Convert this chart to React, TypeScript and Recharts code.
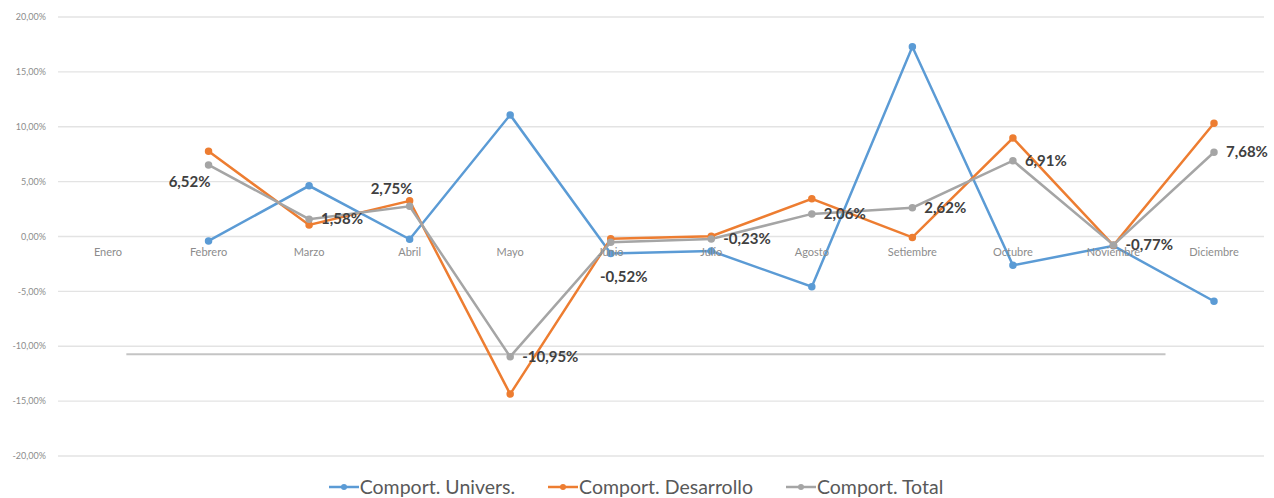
import { LineChart, Line, XAxis, YAxis, CartesianGrid, Legend, ReferenceLine, LabelList } from 'recharts'

const months = ['Enero', 'Febrero', 'Marzo', 'Abril', 'Mayo', 'Junio', 'Julio', 'Agosto', 'Setiembre', 'Octubre', 'Noviembre', 'Diciembre']

const univers = [null, -0.4, 4.62, -0.25, 11.08, -1.55, -1.32, -4.58, 17.28, -2.62, -0.85, -5.9]
const desarrollo = [null, 7.76, 1.05, 3.25, -14.36, -0.2, 0.02, 3.44, -0.08, 8.97, -0.8, 10.32]
const total = [null, 6.52, 1.58, 2.75, -10.95, -0.52, -0.23, 2.06, 2.62, 6.91, -0.77, 7.68]

const yTicks = [-20, -15, -10, -5, 0, 5, 10, 15, 20]

// where each "Total" label sits relative to its point
const labelSide = ['', 'left', 'right', 'top', 'right', 'bottom', 'right', 'right', 'right', 'right', 'right', 'right']

// stray horizontal rule drawn across the chart (x in month slots, 0..12)
const ruleY = -10.73
const ruleFrom = 0.68
const ruleTo = 11.02

const data = months.map((m, i) => ({
  month: m,
  slot: i + 0.5,
  univers: univers[i],
  desarrollo: desarrollo[i],
  total: total[i],
}))

const BLUE = '#5b9bd5'
const ORANGE = '#ed7d31'
const GRAY = '#a5a5a5'
const FONT = 'Lato, "Open Sans", sans-serif'

const pct = (v: number) => `${v.toFixed(2).replace('.', ',')}%`

const MonthTick = (props: any) => {
  const { x, y, payload } = props
  // the category labels sit just under the zero line, not at the bottom
  return (
    <text x={x} y={y - 208} textAnchor="middle" fontSize={11} fill="#8c8c8c" fontFamily={FONT}>
      {payload.value}
    </text>
  )
}

const TotalLabel = (props: any) => {
  const { x, y, value, index } = props
  if (value == null) return null
  const side = labelSide[index]
  let tx = x + 12
  let ty = y + 5
  let anchor: 'start' | 'end' | 'middle' = 'start'
  if (side === 'left') { tx = x + 2; ty = y + 22; anchor = 'end' }
  if (side === 'top') { tx = x - 18; ty = y - 12; anchor = 'middle' }
  if (side === 'bottom') { tx = x + 13; ty = y + 40; anchor = 'middle' }
  return (
    <text x={tx} y={ty} textAnchor={anchor} fontSize={15} fontWeight={700} fill="#404040" fontFamily={FONT}>
      {pct(value)}
    </text>
  )
}

const legendItems = [
  { name: 'Comport. Univers.', color: BLUE },
  { name: 'Comport. Desarrollo', color: ORANGE },
  { name: 'Comport. Total', color: GRAY },
]

const LegendContent = () => (
  <div style={{ display: 'flex', justifyContent: 'center', gap: 33, marginTop: 18, fontFamily: FONT, fontSize: 19.5, color: '#595959' }}>
    {legendItems.map((it) => (
      <div key={it.name} style={{ display: 'flex', alignItems: 'center' }}>
        <svg width={30} height={10} style={{ marginRight: 1 }}>
          <line x1={0} y1={5} x2={30} y2={5} stroke={it.color} strokeWidth={2.5} />
          <circle cx={15} cy={5} r={3} fill={it.color} />
        </svg>
        <span>{it.name}</span>
      </div>
    ))}
  </div>
)

export default function App() {
  return (
    <div style={{ position: 'absolute', left: 0, top: 0, background: '#fff' }}>
      <LineChart width={1274} height={498} data={data} margin={{ top: 17, right: 10, left: 8, bottom: 11 }}>
        <CartesianGrid vertical={false} stroke="#e3e3e3" strokeWidth={1.3} />
        <XAxis
          dataKey="month"
          axisLine={false}
          tickLine={false}
          tick={<MonthTick />}
          height={1}
          interval={0}
          padding={{ left: 50, right: 50 }}
        />
        <XAxis xAxisId="pos" dataKey="slot" type="number" domain={[0, 12]} allowDataOverflow hide />
        <YAxis
          domain={[-20, 20]}
          ticks={yTicks}
          tickFormatter={pct}
          axisLine={false}
          tickLine={false}
          width={50}
          dx={-4}
          tick={{ fontSize: 9, fill: '#8c8c8c', fontFamily: FONT }}
        />
        <ReferenceLine
          xAxisId="pos"
          segment={[{ x: ruleFrom, y: ruleY }, { x: ruleTo, y: ruleY }]}
          stroke="#c4c4c4"
          strokeWidth={2}
          ifOverflow="visible"
        />
        <Line dataKey="univers" stroke={BLUE} strokeWidth={2.5} dot={{ r: 2.5, fill: BLUE, stroke: BLUE }} isAnimationActive={false} />
        <Line dataKey="desarrollo" stroke={ORANGE} strokeWidth={2.5} dot={{ r: 2.5, fill: ORANGE, stroke: ORANGE }} isAnimationActive={false} />
        <Line dataKey="total" stroke={GRAY} strokeWidth={2.5} dot={{ r: 2.5, fill: GRAY, stroke: GRAY }} isAnimationActive={false}>
          <LabelList dataKey="total" content={<TotalLabel />} />
        </Line>
        <Legend verticalAlign="bottom" height={30} content={<LegendContent />} />
      </LineChart>
    </div>
  )
}
